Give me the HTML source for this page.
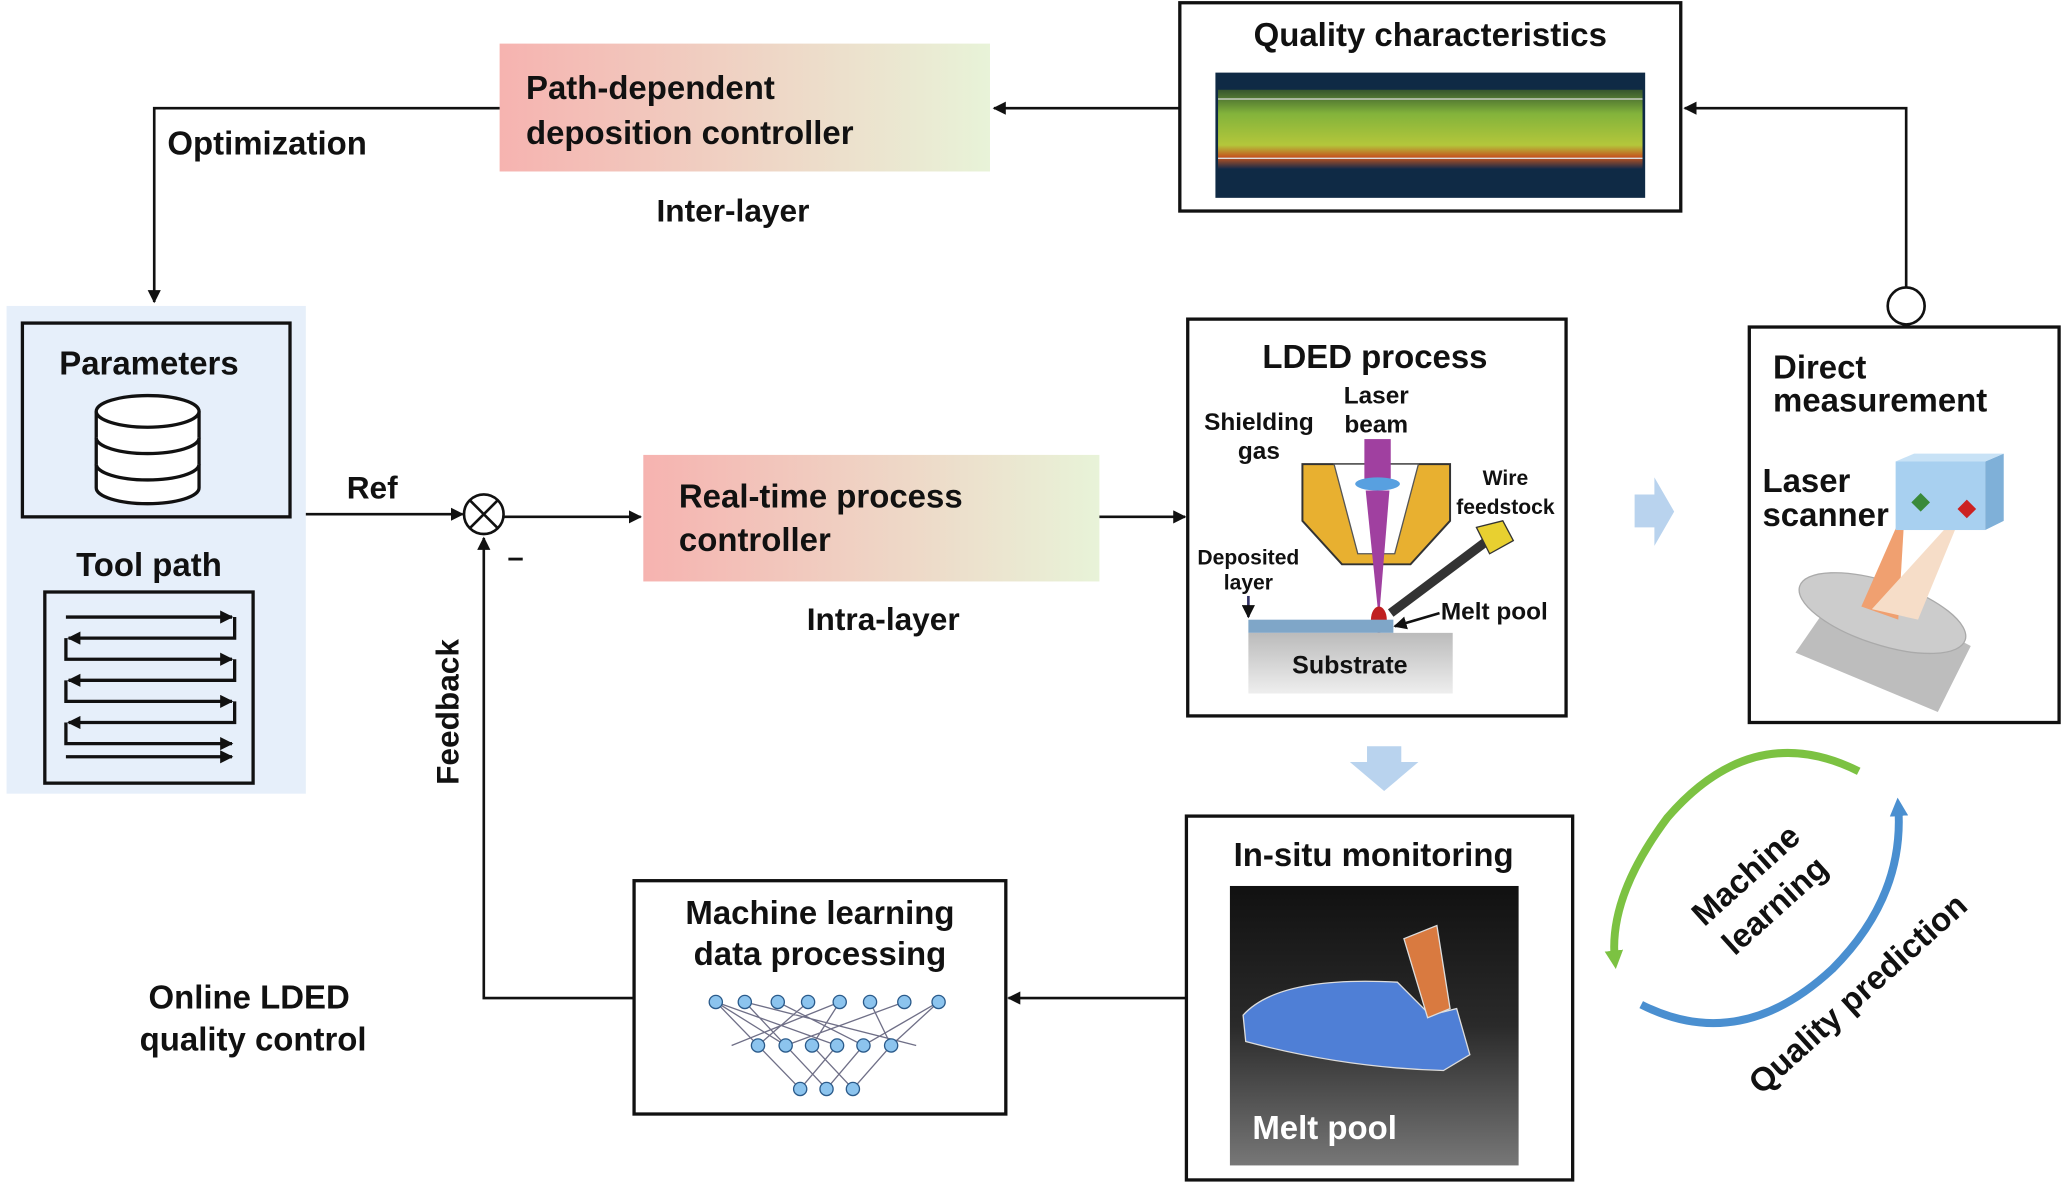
<!DOCTYPE html>
<html><head><meta charset="utf-8"><style>
html,body{margin:0;padding:0;background:#fff}
svg{display:block}
text{font-family:"Liberation Sans",Arial,sans-serif;font-weight:bold;fill:#111}
</style></head><body>
<svg width="2067" height="1184" viewBox="0 0 1568 898" xmlns="http://www.w3.org/2000/svg">
<defs>
<linearGradient id="gc" x1="0" x2="1" y1="0" y2="0"><stop offset="0" stop-color="#f6b3b0"/><stop offset="1" stop-color="#e8f3d8"/></linearGradient>
<linearGradient id="gsub" x1="0" x2="0" y1="0" y2="1"><stop offset="0" stop-color="#bbb"/><stop offset="1" stop-color="#eee"/></linearGradient>
<linearGradient id="gq" x1="0" x2="0" y1="0" y2="1"><stop offset="0" stop-color="#3a5a2a"/><stop offset="0.3" stop-color="#8fc23a"/><stop offset="0.7" stop-color="#c6d83a"/><stop offset="0.85" stop-color="#d95a1a"/><stop offset="1" stop-color="#142a4a"/></linearGradient>
<linearGradient id="gmp" x1="0" x2="0" y1="0" y2="1"><stop offset="0" stop-color="#111"/><stop offset="0.5" stop-color="#2a2a2a"/><stop offset="1" stop-color="#777"/></linearGradient>
<marker id="ah" markerWidth="10" markerHeight="10" refX="9" refY="5" orient="auto" markerUnits="userSpaceOnUse"><path d="M0,0 L10,5 L0,10 z" fill="#111"/></marker>
<marker id="ag" markerWidth="14" markerHeight="14" refX="7" refY="7" orient="auto" markerUnits="userSpaceOnUse"><path d="M0,0 L14,7 L0,14 z" fill="#7cc242"/></marker>
<marker id="ab" markerWidth="14" markerHeight="14" refX="7" refY="7" orient="auto" markerUnits="userSpaceOnUse"><path d="M0,0 L14,7 L0,14 z" fill="#4a8fd0"/></marker>
</defs>

<rect x="895" y="2" width="380" height="158" fill="#fff" stroke="#111" stroke-width="2.5"/>
<text x="1085" y="35" font-size="25" text-anchor="middle">Quality characteristics</text>
<rect x="922" y="55" width="326" height="95" fill="#0f2a45"/>
<rect x="924" y="68" width="322" height="60" fill="url(#gq)" opacity="0.9"/>
<line x1="924" y1="75" x2="1246" y2="75" stroke="#ddd" stroke-width="1"/>
<line x1="924" y1="120" x2="1246" y2="120" stroke="#ddd" stroke-width="1"/>

<rect x="379" y="33" width="372" height="97" fill="url(#gc)"/>
<text x="399" y="75" font-size="25">Path-dependent</text>
<text x="399" y="109" font-size="25">deposition controller</text>
<text x="498" y="168" font-size="24">Inter-layer</text>
<line x1="895" y1="82" x2="754" y2="82" stroke="#111" stroke-width="2" marker-end="url(#ah)"/>
<polyline points="1446,218 1446,82 1278,82" fill="none" stroke="#111" stroke-width="2" marker-end="url(#ah)"/>
<circle cx="1446" cy="232" r="14" fill="#fff" stroke="#111" stroke-width="2"/>
<polyline points="379,82 117,82 117,229" fill="none" stroke="#111" stroke-width="2" marker-end="url(#ah)"/>
<text x="127" y="117" font-size="25">Optimization</text>

<rect x="5" y="232" width="227" height="370" fill="#e6effa"/>
<rect x="17" y="245" width="203" height="147" fill="#e6effa" stroke="#111" stroke-width="2.5"/>
<text x="113" y="284" font-size="25" text-anchor="middle">Parameters</text>
<g fill="#fff" stroke="#111" stroke-width="2.5">
<path d="M73,312 v58 a39,12 0 0 0 78,0 v-58"/>
<path d="M73,332 a39,12 0 0 0 78,0"/>
<path d="M73,352 a39,12 0 0 0 78,0"/>
<ellipse cx="112" cy="312" rx="39" ry="12"/>
</g>
<text x="113" y="437" font-size="25" text-anchor="middle">Tool path</text>
<rect x="34" y="449" width="158" height="145" fill="#e6effa" stroke="#111" stroke-width="2.5"/>
<g fill="none" stroke="#111" stroke-width="2.5">
<line x1="50" y1="468" x2="176" y2="468" marker-end="url(#ah)"/>
<polyline points="178,468 178,484 52,484" marker-end="url(#ah)"/>
<polyline points="50,484 50,500 176,500" marker-end="url(#ah)"/>
<polyline points="178,500 178,516 52,516" marker-end="url(#ah)"/>
<polyline points="50,516 50,532 176,532" marker-end="url(#ah)"/>
<polyline points="178,532 178,548 52,548" marker-end="url(#ah)"/>
<polyline points="50,548 50,564 176,564" marker-end="url(#ah)"/>
<line x1="50" y1="574" x2="176" y2="574" marker-end="url(#ah)"/>
</g>

<line x1="232" y1="390" x2="351" y2="390" stroke="#111" stroke-width="2" marker-end="url(#ah)"/>
<text x="263" y="378" font-size="24">Ref</text>
<circle cx="367" cy="390" r="15" fill="#fff" stroke="#111" stroke-width="2"/>
<line x1="356" y1="379" x2="378" y2="401" stroke="#111" stroke-width="2"/>
<line x1="378" y1="379" x2="356" y2="401" stroke="#111" stroke-width="2"/>
<text x="385" y="430" font-size="22">–</text>
<line x1="382" y1="392" x2="486" y2="392" stroke="#111" stroke-width="2" marker-end="url(#ah)"/>
<rect x="488" y="345" width="346" height="96" fill="url(#gc)"/>
<text x="515" y="385" font-size="25">Real-time process</text>
<text x="515" y="418" font-size="25">controller</text>
<text x="612" y="478" font-size="24">Intra-layer</text>
<line x1="834" y1="392" x2="899" y2="392" stroke="#111" stroke-width="2" marker-end="url(#ah)"/>

<rect x="901" y="242" width="287" height="301" fill="#fff" stroke="#111" stroke-width="2.5"/>
<text x="1043" y="279" font-size="25" text-anchor="middle">LDED process</text>
<text x="955" y="326" font-size="18.5" text-anchor="middle">Shielding</text>
<text x="955" y="348" font-size="18.5" text-anchor="middle">gas</text>
<text x="1044" y="306" font-size="18.5" text-anchor="middle">Laser</text>
<text x="1044" y="328" font-size="18.5" text-anchor="middle">beam</text>
<text x="1142" y="368" font-size="16" text-anchor="middle">Wire</text>
<text x="1142" y="390" font-size="16" text-anchor="middle">feedstock</text>
<text x="947" y="428" font-size="16" text-anchor="middle">Deposited</text>
<text x="947" y="447" font-size="16" text-anchor="middle">layer</text>
<path d="M988,352 L1100,352 L1100,395 L1070,428 L1018,428 L988,395 Z" fill="#e8b030" stroke="#333" stroke-width="1.5"/>
<path d="M1012,352 L1030,420 L1058,420 L1076,352 Z" fill="#fff" stroke="#555" stroke-width="1"/>
<rect x="1035" y="333" width="20" height="30" fill="#a040a0"/>
<ellipse cx="1045" cy="367" rx="17" ry="5" fill="#58a0e0"/>
<path d="M1036,372 L1054,372 L1046,470 Z" fill="#a040a0"/>
<line x1="1135" y1="405" x2="1055" y2="465" stroke="#333" stroke-width="7"/>
<path d="M1120,400 L1140,395 L1148,410 L1130,420 Z" fill="#e8d030" stroke="#333"/>
<ellipse cx="1046" cy="470" rx="6" ry="10" fill="#c02020"/>
<rect x="947" y="470" width="110" height="10" fill="#7fa6c8"/>
<rect x="947" y="480" width="155" height="46" fill="url(#gsub)"/>
<text x="1024" y="511" font-size="19" text-anchor="middle">Substrate</text>
<text x="1093" y="470" font-size="18.5">Melt pool</text>
<line x1="1092" y1="465" x2="1058" y2="475" stroke="#111" stroke-width="2" marker-end="url(#ah)"/>
<line x1="947" y1="452" x2="947" y2="468" stroke="#336" stroke-width="2" marker-end="url(#ah)"/>

<rect x="1327" y="248" width="235" height="300" fill="#fff" stroke="#111" stroke-width="2.5"/>
<text x="1345" y="287" font-size="25">Direct</text>
<text x="1345" y="312" font-size="25">measurement</text>
<text x="1337" y="373" font-size="25">Laser</text>
<text x="1337" y="399" font-size="25">scanner</text>
<path d="M1362,495 L1400,440 L1495,490 L1470,540 Z" fill="#bdbdbd"/>
<ellipse cx="1428" cy="465" rx="66" ry="24" fill="#ccc" stroke="#aaa" transform="rotate(18 1428 465)"/>
<path d="M1445,385 L1412,460 L1440,470 Z" fill="#f0a070"/>
<path d="M1490,385 L1420,462 L1455,470 Z" fill="#f6ddc8"/>
<rect x="1438" y="350" width="68" height="52" fill="#a8d0f0"/>
<path d="M1506,350 L1520,344 L1520,395 L1506,402 Z" fill="#7fb0d8"/>
<path d="M1438,350 L1452,344 L1520,344 L1506,350 Z" fill="#c8e2f6"/>
<rect x="1452" y="376" width="10" height="10" fill="#3a8a3a" transform="rotate(45 1457 381)"/>
<rect x="1487" y="381" width="10" height="10" fill="#cc2222" transform="rotate(45 1492 386)"/>

<path d="M1240,375 L1255,375 L1255,362 L1270,388 L1255,414 L1255,400 L1240,400 Z" fill="#a8c8ea" opacity="0.8"/>
<path d="M1037,566 L1037,578 L1024,578 L1050,600 L1076,578 L1063,578 L1063,566 Z" fill="#a8c8ea" opacity="0.8"/>

<rect x="900" y="619" width="293" height="276" fill="#fff" stroke="#111" stroke-width="2.5"/>
<text x="1042" y="657" font-size="25" text-anchor="middle">In-situ monitoring</text>
<rect x="933" y="672" width="219" height="212" fill="url(#gmp)"/>
<path d="M943,770 Q970,740 1060,745 L1085,770 L1105,765 L1115,800 L1095,812 Q1020,810 945,790 Z" fill="#4f7fd6" stroke="#ddd" stroke-width="1"/>
<path d="M1065,712 L1090,702 L1100,765 L1083,772 Z" fill="#d97a40" stroke="#ddd" stroke-width="1"/>
<text x="950" y="864" font-size="25" style="fill:#fff">Melt pool</text>

<rect x="481" y="668" width="282" height="177" fill="#fff" stroke="#111" stroke-width="2.5"/>
<text x="622" y="701" font-size="25" text-anchor="middle">Machine learning</text>
<text x="622" y="732" font-size="25" text-anchor="middle">data processing</text>
<g stroke="#335" stroke-width="1" opacity="0.7">
<path d="M543,760 L575,793 M543,760 L635,793 M565,760 L596,793 M590,760 L655,793 M613,760 L575,793 M637,760 L616,793 M660,760 L676,793 M686,760 L596,793 M712,760 L655,793 M575,793 L607,826 M596,793 L627,826 M616,793 L647,826 M635,793 L607,826 M655,793 L627,826 M676,793 L647,826 M543,760 L596,793 M712,760 L676,793 M637,760 L555,793 M565,760 L695,793"/>
</g>
<g fill="#8cc4ee" stroke="#2a5a8a" stroke-width="1">
<circle cx="543" cy="760" r="5"/><circle cx="565" cy="760" r="5"/><circle cx="590" cy="760" r="5"/><circle cx="613" cy="760" r="5"/><circle cx="637" cy="760" r="5"/><circle cx="660" cy="760" r="5"/><circle cx="686" cy="760" r="5"/><circle cx="712" cy="760" r="5"/>
<circle cx="575" cy="793" r="5"/><circle cx="596" cy="793" r="5"/><circle cx="616" cy="793" r="5"/><circle cx="635" cy="793" r="5"/><circle cx="655" cy="793" r="5"/><circle cx="676" cy="793" r="5"/>
<circle cx="607" cy="826" r="5"/><circle cx="627" cy="826" r="5"/><circle cx="647" cy="826" r="5"/>
</g>
<line x1="900" y1="757" x2="765" y2="757" stroke="#111" stroke-width="2" marker-end="url(#ah)"/>
<polyline points="481,757 367,757 367,408" fill="none" stroke="#111" stroke-width="2" marker-end="url(#ah)"/>
<text transform="translate(348,540) rotate(-90)" font-size="24" text-anchor="middle">Feedback</text>
<text x="189" y="765" font-size="25" text-anchor="middle">Online LDED</text>
<text x="192" y="797" font-size="25" text-anchor="middle">quality control</text>

<path d="M1410,585 Q1330,545 1265,620 Q1220,680 1225,728" fill="none" stroke="#7cc242" stroke-width="6" marker-end="url(#ag)"/>
<path d="M1245,762 Q1320,800 1390,735 Q1445,680 1440,612" fill="none" stroke="#4a8fd0" stroke-width="6" marker-end="url(#ab)"/>
<text transform="translate(1330,670) rotate(-42)" font-size="25" text-anchor="middle">Machine</text>
<text transform="translate(1352,693) rotate(-42)" font-size="25" text-anchor="middle">learning</text>
<text transform="translate(1415,760) rotate(-42)" font-size="25" text-anchor="middle">Quality prediction</text>
</svg>
</body></html>
